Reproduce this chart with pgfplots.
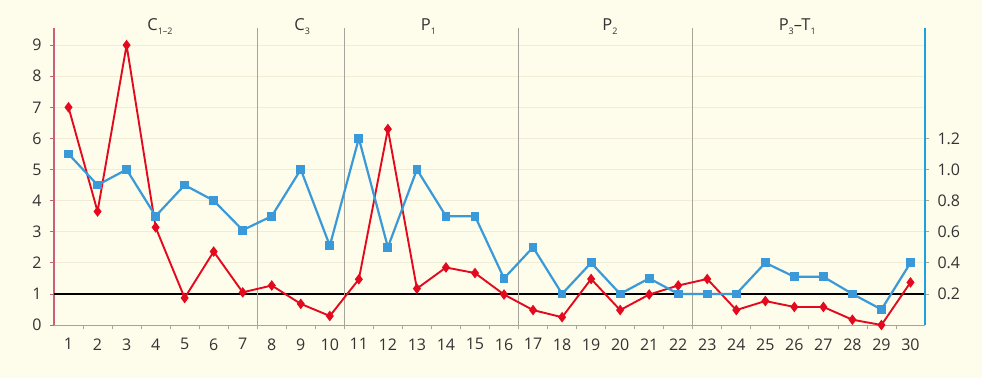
\documentclass[border=0pt]{standalone}
\usepackage{pgfplots}
\pgfplotsset{compat=1.18}
\usepackage{fontspec}
\setmainfont{Open Sans}
\definecolor{bg}{HTML}{FEFCEA}
\definecolor{gridc}{HTML}{F1ECD6}
\definecolor{redl}{HTML}{E30A1F}
\definecolor{bluel}{HTML}{3A9AD9}
\definecolor{pinkax}{HTML}{C9607A}
\definecolor{blueax}{HTML}{1AA3DD}
\definecolor{sepc}{HTML}{A8A49A}
\definecolor{txt}{HTML}{333333}
\newcommand{\lsub}[1]{\raisebox{-4pt}{\fontsize{9}{10}\selectfont #1}}
\begin{document}
\begin{tikzpicture}[x=1pt,y=1pt]
\fill[bg] (-54,-53) rectangle (928,325);
\begin{axis}[
  at={(0,0)}, anchor=south west,
  scale only axis, width=871pt, height=297pt,
  xmin=0.5, xmax=30.5, ymin=0, ymax=9.55,
  axis x line*=bottom, axis y line*=left,
  x axis line style={sepc, line width=0.8pt},
  y axis line style={pinkax, line width=1.2pt},
  xtick={1.5,2.5,...,29.5}, xticklabels={},
  extra x ticks={1,2,...,30},
  extra x tick style={major tick length=0pt},
  xtick style={sepc, line width=0.8pt},
  ytick={0,1,...,9},
  ytick style={pinkax, line width=0.8pt},
  major tick length=4pt, tick align=outside,
  ymajorgrids, grid style={gridc, line width=0.8pt},
  tick label style={font=\fontsize{16}{18}\selectfont, text=txt},
  xticklabel style={yshift=-10pt},
  yticklabel style={xshift=-5pt},
  /pgf/number format/assume math mode=true,
  clip=false,
]
\addplot[black, line width=1.3pt, no marks, forget plot] coordinates {(0.5,1) (30.5,1)};
\addplot[sepc, line width=1pt, no marks, forget plot] coordinates {(7.5,0) (7.5,9.55)};
\addplot[sepc, line width=1pt, no marks, forget plot] coordinates {(10.5,0) (10.5,9.55)};
\addplot[sepc, line width=1pt, no marks, forget plot] coordinates {(16.5,0) (16.5,9.55)};
\addplot[sepc, line width=1pt, no marks, forget plot] coordinates {(22.5,0) (22.5,9.55)};
\addplot[redl, line width=1.9pt, mark=diamond*, mark size=3.8pt, mark options={solid, fill=redl, draw=redl}] coordinates {
(1,7.0) (2,3.65) (3,9.0) (4,3.14) (5,0.87) (6,2.36) (7,1.05) (8,1.27) (9,0.68) (10,0.29)
(11,1.47) (12,6.3) (13,1.17) (14,1.85) (15,1.67) (16,0.98) (17,0.48) (18,0.25) (19,1.48) (20,0.48)
(21,0.98) (22,1.27) (23,1.48) (24,0.48) (25,0.77) (26,0.58) (27,0.58) (28,0.17) (29,0.0) (30,1.37)};
\node[anchor=base, font=\fontsize{16.5}{18}\selectfont, text=txt] at (axis cs:4.15,9.55) [yshift=-2pt] {C\lsub{1–2}};
\node[anchor=base, font=\fontsize{16.5}{18}\selectfont, text=txt] at (axis cs:9.05,9.55) [yshift=-2pt] {C\lsub{3}};
\node[anchor=base, font=\fontsize{16.5}{18}\selectfont, text=txt] at (axis cs:13.4,9.55) [yshift=-2pt] {P\lsub{1}};
\node[anchor=base, font=\fontsize{16.5}{18}\selectfont, text=txt] at (axis cs:19.65,9.55) [yshift=-2pt] {P\lsub{2}};
\node[anchor=base, font=\fontsize{16.5}{18}\selectfont, text=txt] at (axis cs:26.1,9.55) [yshift=-2pt] {P\lsub{3}–T\lsub{1}};
\end{axis}
\begin{axis}[
  at={(0,0)}, anchor=south west,
  scale only axis, width=871pt, height=297pt,
  xmin=0.5, xmax=30.5, ymin=0, ymax=1.91,
  axis x line=none, axis y line*=right,
  y axis line style={blueax, line width=1.2pt},
  ytick={0.2,0.4,0.6,0.8,1.0,1.2},
  ytick style={sepc, line width=0.8pt},
  major tick length=4pt, tick align=outside,
  tick label style={font=\fontsize{16}{18}\selectfont, text=txt},
  yticklabel style={xshift=5pt, /pgf/number format/.cd, fixed, fixed zerofill, precision=1},
  /pgf/number format/assume math mode=true,
  clip=false,
]
\addplot[bluel, line width=2.2pt, mark=square*, mark size=3.3pt, mark options={solid, fill=bluel, draw=bluel}] coordinates {
(1,1.1) (2,0.9) (3,1.0) (4,0.7) (5,0.9) (6,0.8) (7,0.61) (8,0.7) (9,1.0) (10,0.51)
(11,1.2) (12,0.5) (13,1.0) (14,0.7) (15,0.7) (16,0.3) (17,0.5) (18,0.2) (19,0.4) (20,0.2)
(21,0.3) (22,0.2) (23,0.2) (24,0.2) (25,0.4) (26,0.31) (27,0.31) (28,0.2) (29,0.1) (30,0.4)};
\end{axis}
\end{tikzpicture}
\end{document}
